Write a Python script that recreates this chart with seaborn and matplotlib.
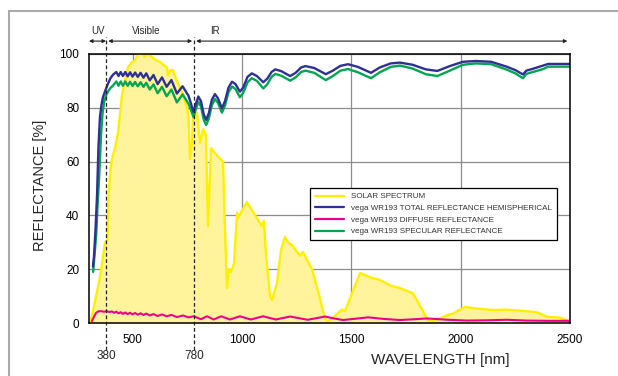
import numpy as np
import pandas as pd
import matplotlib
matplotlib.use("Agg")
import matplotlib.pyplot as plt
import seaborn as sns
from matplotlib.lines import Line2D

sns.set_style("white")
plt.rcParams["font.family"] = ["Liberation Sans", "DejaVu Sans"]
plt.rcParams["lines.solid_joinstyle"] = "round"

# ---------------- data ----------------
solar_wl = [305, 320, 335, 350, 365, 373, 384, 390, 398, 405, 419, 433, 445, 451, 465, 478,
            497, 510, 524, 540, 555, 570, 586, 602, 625, 640, 657, 661, 672, 684, 707, 730,
            748, 755, 762, 771, 776, 785, 794, 808, 822, 835, 844, 858, 867, 913, 920, 931,
            940, 949, 963, 977, 981, 1022, 1068, 1091, 1100, 1110, 1128, 1137, 1160, 1178,
            1196, 1210, 1228, 1265, 1279, 1300, 1320, 1347, 1375, 1389, 1416, 1457, 1471,
            1540, 1585, 1631, 1677, 1722, 1782, 1851, 1873, 1942, 1965, 2020, 2057, 2148,
            2200, 2271, 2349, 2395, 2454, 2500]
solar_val = [0, 5, 11, 17, 25, 30, 31, 48, 57, 61, 65, 71, 80, 85, 90, 95,
             97, 97.5, 100, 100, 99, 100, 99, 98, 97, 96, 95, 92, 94, 94, 89, 85,
             80, 77, 61, 67, 77, 77, 78, 67, 72, 70, 36, 65, 64, 60, 40, 13,
             20, 19, 22, 41, 39, 45, 39, 36, 38, 25, 10, 8.5, 15, 27,
             32, 30, 29, 25, 26.4, 23, 20, 12, 3, 0.5, 2, 5, 4.5,
             18.6, 17, 16, 14, 13, 11, 1, 0.7, 3, 3.5, 6, 5.5, 4.8,
             5, 4.6, 4, 2.3, 2, 0.6]

total_wl = [318, 323, 330, 337, 343, 350, 357, 364, 375, 387, 398, 410,
            425, 435, 445, 455, 466, 477, 488, 499, 511, 523, 536, 549, 562, 578,
            595, 614, 634, 655, 677, 702, 728, 755,
            778, 785, 800, 812, 825, 836, 848, 862, 876, 890, 908, 922, 938, 954,
            970, 990, 1005, 1025, 1045, 1068, 1097, 1115, 1135, 1152, 1180, 1220,
            1245, 1270, 1290, 1330, 1383, 1415, 1450, 1485, 1530, 1590, 1630, 1680,
            1722, 1780, 1840, 1893, 1950, 2010, 2070, 2140, 2210, 2250, 2285, 2300,
            2330, 2377, 2400, 2500]
total_val = [21, 25, 35, 48, 65, 76.5, 81, 84, 86.5, 89, 91, 92.3,
             93.3, 91.8, 93.3, 91.8, 93.3, 91.7, 93.2, 91.6, 93.1, 91.5, 93.0, 91.2, 92.8, 90.2,
             92.2, 88.8, 91.3, 87.8, 90.3, 85.3, 88.0, 84.5,
             78.5, 80.5, 84.2, 82.5, 77.5, 75.5, 78, 83, 85.1, 83.5, 79.8, 82.5, 87.5, 89.7,
             88.8, 86, 87.5, 91.5, 92.8, 91.8, 89.5, 90.8, 93.3, 94.3, 93.6, 91.8,
             93, 95, 95.5, 94.8, 92.5, 93.8, 95.6, 96.2, 95.2, 93, 95, 96.5,
             96.8, 96, 94.3, 93.7, 95.5, 97.1, 97.4, 97.1, 95.3, 94, 92.4, 93.8,
             94.5, 95.7, 96.3, 96.3]

specular_wl = [319, 325, 333, 340, 347, 355, 362, 370, 380, 390, 400, 412,
               425, 435, 445, 455, 466, 477, 488, 499, 511, 523, 536, 549, 562, 578,
               595, 614, 634, 655, 677, 702, 728, 755,
               778, 785, 800, 812, 825, 836, 848, 862, 876, 890, 908, 922, 938, 954,
               970, 990, 1005, 1025, 1045, 1068, 1097, 1115, 1135, 1152, 1180, 1220,
               1245, 1270, 1290, 1330, 1383, 1415, 1450, 1485, 1530, 1590, 1630, 1680,
               1722, 1780, 1840, 1893, 1950, 2010, 2070, 2140, 2210, 2250, 2285, 2300,
               2330, 2377, 2400, 2500]
specular_val = [19, 25, 33, 45, 55, 70, 78, 82.5, 85, 86.5, 87.5, 88.5,
                89.8, 88.2, 89.8, 88.2, 89.8, 88.2, 89.7, 88.1, 89.6, 88.0, 89.5, 87.8, 89.3, 86.8,
                88.7, 85.4, 87.8, 84.3, 86.8, 82.0, 85.0, 81.5,
                76.6, 78.5, 82.3, 80.5, 75.5, 73.6, 76, 81, 83.3, 81.8, 78.2, 80.8, 85.8, 87.9,
                87, 83.9, 85.5, 89.5, 91, 90, 87.2, 88.7, 91.5, 92.6, 91.9, 90.1,
                91.3, 93.3, 93.8, 93, 90.3, 91.8, 93.8, 94.4, 93.2, 91, 93.2, 95.2,
                95.7, 94.6, 92.5, 91.8, 93.8, 96, 96.5, 96.2, 94.2, 92.8, 91, 92.6,
                93.3, 94.4, 95.3, 95.3]

diffuse_wl = [313, 322, 332, 342, 355, 368, 380, 393, 405, 415, 425, 435, 445, 455, 466,
              477, 488, 499, 511, 523, 536, 549, 562, 578, 595, 614, 634, 655, 677, 702,
              730, 755, 780, 812, 840, 870, 905, 945, 990, 1040, 1096, 1155, 1220, 1300,
              1380, 1420, 1462, 1520, 1577, 1650, 1722, 1790, 1846, 1940, 2029, 2120,
              2212, 2300, 2400, 2500]
diffuse_val = [0.7, 2.2, 3.7, 4.3, 4.4, 4.2, 4.4, 4.1, 4.3, 3.8, 4.2, 3.6, 4.0, 3.4, 3.9,
               3.3, 3.8, 3.2, 3.7, 3.1, 3.6, 3.0, 3.5, 2.8, 3.3, 2.6, 3.2, 2.5, 3.0, 2.2,
               2.8, 2.1, 2.5, 1.4, 2.5, 1.3, 2.5, 1.3, 2.5, 1.3, 2.5, 1.3, 2.4, 1.2,
               2.4, 1.7, 1.1, 1.6, 2.1, 1.5, 1.1, 1.4, 1.7, 1.2, 0.9, 1.0,
               1.2, 0.9, 0.8, 0.8]

labels = ["SOLAR SPECTRUM",
          "vega WR193 TOTAL REFLECTANCE HEMISPHERICAL",
          "vega WR193 DIFFUSE REFLECTANCE",
          "vega WR193 SPECULAR REFLECTANCE"]
x_ticks = [500, 1000, 1500, 2000, 2500]
y_ticks = [0, 20, 40, 60, 80, 100]
band_marks = [380, 780]

YELLOW = "#FFF000"
FILL = "#FFF39B"
BLUE = "#2E3192"
PINK = "#EC008C"
GREEN = "#00A651"

# ---------------- figure ----------------
fig = plt.figure(figsize=(6.18, 3.76), dpi=100)
ax = fig.add_axes([89 / 618, 1 - 323 / 376, 481 / 618, 269 / 376])
ax.set_axisbelow(True)

ax.fill_between(solar_wl, solar_val, 0, color=FILL, lw=0, zorder=1)
sns.lineplot(x=solar_wl, y=solar_val, color=YELLOW, lw=1.7, ax=ax, sort=False,
             estimator=None, zorder=2)
sns.lineplot(x=diffuse_wl, y=diffuse_val, color=PINK, lw=1.5, ax=ax, sort=False,
             estimator=None, zorder=3)
sns.lineplot(x=specular_wl, y=specular_val, color=GREEN, lw=1.7, ax=ax, sort=False,
             estimator=None, zorder=4)
sns.lineplot(x=total_wl, y=total_val, color=BLUE, lw=1.7, ax=ax, sort=False,
             estimator=None, zorder=5)

ax.set_xlim(300, 2500)
ax.set_ylim(0, 100)
ax.set_xticks(x_ticks)
ax.set_xticks([750, 1250, 1750, 2250], minor=True)
ax.set_yticks(y_ticks)
ax.set_yticks([10, 30, 50, 70, 90], minor=True)
ax.tick_params(axis="both", which="both", direction="out", length=3, width=0.8,
               colors="black", labelsize=8.5)
ax.tick_params(axis="x", which="major", pad=5)
ax.tick_params(axis="y", which="major", pad=4)
ax.grid(True, which="major", color="#8c8c8c", lw=0.9)
for s in ax.spines.values():
    s.set_color("black")
    s.set_linewidth(1.1)
    s.set_zorder(6)
ax.set_xlabel("")
ax.set_ylabel("")

# band markers
for b in band_marks:
    ax.plot([b, b], [-10, 106.3], ls=(0, (3, 2)), color="#222222", lw=0.9,
            clip_on=False, zorder=7)
    ax.text(b, -12.3, str(b), ha="center", va="center", fontsize=8.5)

arrow_y = 104.8
for x0, x1 in [(300, 378), (388, 772), (790, 2488)]:
    ax.annotate("", xy=(x0, arrow_y), xytext=(x1, arrow_y),
                arrowprops=dict(arrowstyle="<|-|>", lw=0.8, color="#222222",
                                mutation_scale=5, shrinkA=0, shrinkB=0),
                annotation_clip=False)
for txt, xv in [("UV", 342), ("Visible", 561), ("IR", 876)]:
    ax.text(xv, 108.6, txt, ha="center", va="center", fontsize=7)

handles = [Line2D([], [], color=c, lw=1.6) for c in [YELLOW, BLUE, PINK, GREEN]]
leg = ax.legend(handles, labels, loc="upper left", bbox_to_anchor=(0.459, 0.502),
                borderaxespad=0, fontsize=5.8, handlelength=3.6, labelspacing=0.5,
                frameon=True, fancybox=False, edgecolor="black", framealpha=1,
                borderpad=0.6, handletextpad=0.9)
leg.get_frame().set_linewidth(0.9)
leg.set_zorder(8)
for t in leg.get_texts():
    t.set_color("#333333")

fig.text(40 / 618, 1 - 185 / 376, "REFLECTANCE [%]", rotation=90, ha="center",
         va="center", fontsize=10.5)
fig.text(440 / 618, 1 - 360 / 376, "WAVELENGTH [nm]", ha="center", va="center",
         fontsize=11)

# outer gray frame
fig.add_artist(Line2D([9 / 618, 1], [1 - 11 / 376, 1 - 11 / 376], color="#aaaaaa",
                      lw=1.5, transform=fig.transFigure))
fig.add_artist(Line2D([9 / 618, 9 / 618], [0, 1 - 11 / 376], color="#aaaaaa",
                      lw=1.5, transform=fig.transFigure))

fig.savefig("out.png", dpi=100)
